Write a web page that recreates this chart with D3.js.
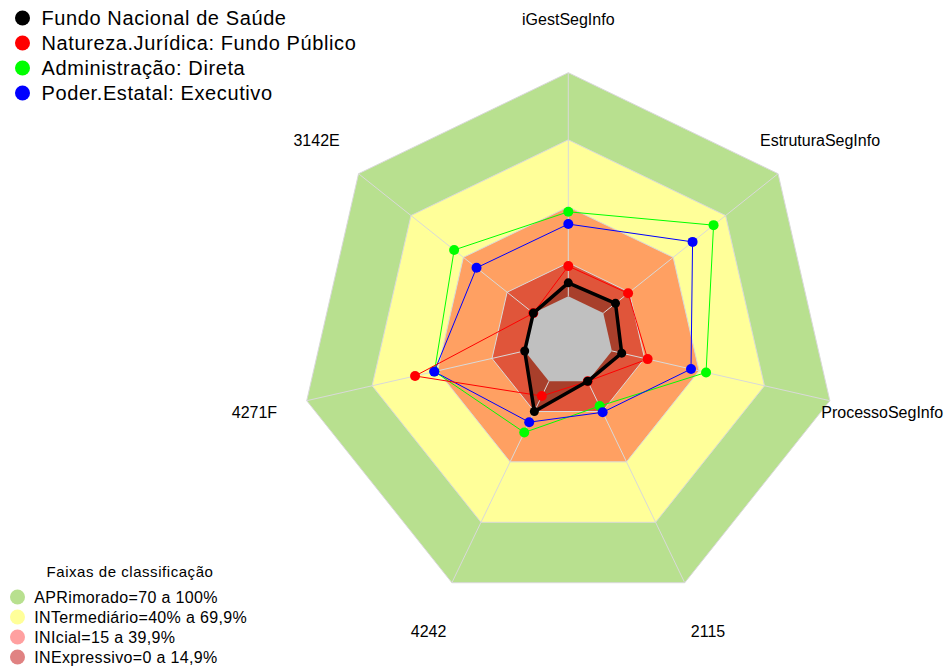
<!DOCTYPE html>
<html>
<head>
<meta charset="utf-8">
<script src="https://cdn.jsdelivr.net/npm/d3@7"></script>
<style>
  body { margin: 0; background: #fff; }
  svg { font-family: "Liberation Sans", Arial, sans-serif; }
</style>
</head>
<body>
<div id="chart"></div>
<script>
var width = 949, height = 668;

// axes, clockwise from the top
var axes = ["iGestSegInfo", "EstruturaSegInfo", "ProcessoSegInfo", "2115", "4242", "4271F", "3142E"];

// series values (%), same order as axes
var fundoNacional    = [6, 7, 4.5, 0, 15, 0, 0];
var naturezaJuridica = [13.5, 14.2, 16.4, 0, 7.3, 50.3, 0];
var administracao    = [37.8, 63.1, 43.2, 12.3, 25.4, 41.4, 45.3];
var poderEstatal     = [32.3, 51.1, 36.3, 15.4, 20.3, 41.5, 32.5];

var seriesNames = ["Fundo Nacional de Saúde", "Natureza.Jurídica: Fundo Público",
                   "Administração: Direta", "Poder.Estatal: Executivo"];
var seriesColors = ["#000000", "#ff0000", "#00ff00", "#0000ff"];

// classification bands (upper limit of each band)
var bandLimits = [100, 70, 40, 15];
var bandFills = ["#b8e08f", "#ffff99", "#ffa062", "#e0553a"];
var bandLabels = ["APRimorado=70 a 100%", "INTermediário=40% a 69,9%",
                  "INIcial=15 a 39,9%", "INExpressivo=0 a 14,9%"];
var bandLegendColors = ["#b8e08f", "#ffff99", "#ffa0a0", "#e08282"];

var cx = 568.3, cy = 341, R = 268.3;
var n = axes.length;
var angle = function(i) { return i * 2 * Math.PI / n; };

var r = d3.scaleLinear()
    .domain([0, 100])
    .range([R / 6, R]);

var radial = d3.lineRadial()
    .angle(function(d, i) { return angle(i); })
    .radius(function(d) { return r(d); })
    .curve(d3.curveLinearClosed);

var svg = d3.select("#chart").append("svg")
    .attr("width", width)
    .attr("height", height);

var g = svg.append("g")
    .attr("transform", "translate(" + cx + "," + cy + ")");

// bands
g.selectAll("path.band")
    .data(bandLimits)
    .enter()
    .append("path")
    .attr("class", "band")
    .attr("d", function(d) { return radial(axes.map(function() { return d; })); })
    .style("fill", function(d, i) { return bandFills[i]; })
    .style("stroke", "#d9d9d9")
    .style("stroke-width", 1);

// shaded area of the first series
g.append("path")
    .attr("d", radial(fundoNacional))
    .style("fill", "rgba(0,0,0,0.25)")
    .style("stroke", "none");

// center (value 0)
g.append("path")
    .attr("d", radial(axes.map(function() { return 0; })))
    .style("fill", "#c0c0c0")
    .style("stroke", "none");

// axis lines
g.selectAll("line.axis")
    .data(axes)
    .enter()
    .append("line")
    .attr("class", "axis")
    .attr("x1", function(d, i) { return r(0) * Math.sin(angle(i)); })
    .attr("y1", function(d, i) { return -r(0) * Math.cos(angle(i)); })
    .attr("x2", function(d, i) { return r(100) * Math.sin(angle(i)); })
    .attr("y2", function(d, i) { return -r(100) * Math.cos(angle(i)); })
    .style("stroke", "#d9d9d9")
    .style("stroke-width", 1);

// axis labels
g.selectAll("text.label")
    .data(axes)
    .enter()
    .append("text")
    .attr("class", "label")
    .attr("x", function(d, i) { return 1.2 * R * Math.sin(angle(i)); })
    .attr("y", function(d, i) { return -1.2 * R * Math.cos(angle(i)); })
    .attr("dy", "0.35em")
    .attr("text-anchor", "middle")
    .style("font-size", "16px")
    .style("fill", "#000")
    .text(function(d) { return d; });

// series, drawn last to first so the black line ends on top
var allSeries = [fundoNacional, naturezaJuridica, administracao, poderEstatal];
var order = [2, 3, 1, 0];
order.forEach(function(s) {
    var vals = allSeries[s];
    g.append("path")
        .attr("d", radial(vals))
        .style("fill", "none")
        .style("stroke", seriesColors[s])
        .style("stroke-width", s === 0 ? 3.5 : 1)
        .style("stroke-linejoin", "round");
    g.selectAll("circle.s" + s)
        .data(vals)
        .enter()
        .append("circle")
        .attr("class", "s" + s)
        .attr("cx", function(d, i) { return r(d) * Math.sin(angle(i)); })
        .attr("cy", function(d, i) { return -r(d) * Math.cos(angle(i)); })
        .attr("r", s === 0 ? 4.5 : 5)
        .style("fill", seriesColors[s]);
});

// series legend (top left)
var legend = svg.append("g")
    .selectAll("g")
    .data(seriesNames)
    .enter()
    .append("g")
    .attr("transform", function(d, i) { return "translate(0," + (18 + i * 25) + ")"; });

legend.append("circle")
    .attr("cx", 22.5)
    .attr("cy", 0)
    .attr("r", 7.5)
    .style("fill", function(d, i) { return seriesColors[i]; });

legend.append("text")
    .attr("x", 41.5)
    .attr("y", 0)
    .attr("dy", "0.35em")
    .style("font-size", "20px")
    .style("letter-spacing", "0.6px")
    .text(function(d) { return d; });

// band legend (bottom left)
svg.append("text")
    .attr("x", 130)
    .attr("y", 576.5)
    .attr("text-anchor", "middle")
    .style("font-size", "15px")
    .style("letter-spacing", "0.55px")
    .text("Faixas de classificação");

var bandLegend = svg.append("g")
    .selectAll("g")
    .data(bandLabels)
    .enter()
    .append("g")
    .attr("transform", function(d, i) { return "translate(0," + (597 + i * 20) + ")"; });

bandLegend.append("circle")
    .attr("cx", 17.5)
    .attr("cy", 0)
    .attr("r", 7.5)
    .style("fill", function(d, i) { return bandLegendColors[i]; });

bandLegend.append("text")
    .attr("x", 34.3)
    .attr("y", 0)
    .attr("dy", "0.35em")
    .style("font-size", "16px")
    .style("letter-spacing", "0.35px")
    .text(function(d) { return d; });
</script>
</body>
</html>
